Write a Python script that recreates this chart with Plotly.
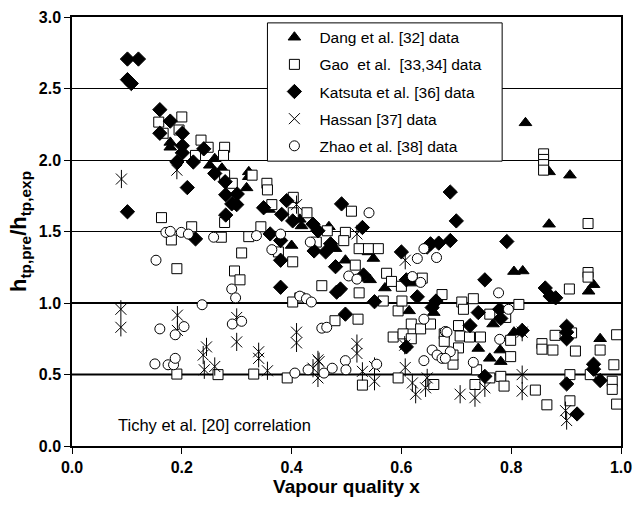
import plotly.graph_objects as go

# Dang et al. [32]
dang_x = [0.179, 0.179, 0.251, 0.260, 0.273, 0.322, 0.322, 0.318, 0.359, 0.418, 0.400, 0.415,
          0.468, 0.480, 0.498, 0.540, 0.549, 0.543, 0.570, 0.614, 0.620, 0.659, 0.740, 0.761,
          0.767, 0.780, 0.781, 0.805, 0.805, 0.821, 0.826, 0.869, 0.907, 0.869, 0.941, 0.950, 0.962]
dang_y = [2.123, 2.089, 1.963, 2.009, 1.942, 1.917, 1.883, 1.805, 1.654, 1.539, 1.402, 1.585,
          1.533, 1.380, 1.299, 1.357, 1.311, 1.162, 1.105, 0.945, 1.139, 0.933, 0.682, 0.613,
          0.853, 0.671, 0.590, 0.796, 1.220, 1.224, 2.260, 1.917, 1.894, 1.551, 1.082, 1.128, 0.750]

# Gao et al. [33,34]
gao_x = [0.158, 0.166, 0.200, 0.195, 0.235, 0.248, 0.278, 0.276, 0.225, 0.278, 0.328, 0.292,
         0.355, 0.356, 0.364, 0.403, 0.403, 0.428, 0.509, 0.163, 0.218, 0.181, 0.272, 0.278,
         0.322, 0.344, 0.309, 0.376, 0.402, 0.191, 0.296, 0.306, 0.465, 0.498, 0.495, 0.445,
         0.523, 0.540, 0.558, 0.516, 0.455, 0.523, 0.573, 0.582, 0.600, 0.638, 0.674, 0.415,
         0.402, 0.567, 0.594, 0.601, 0.479, 0.521, 0.618, 0.635, 0.653, 0.585, 0.603, 0.618,
         0.678, 0.678, 0.594, 0.529, 0.659, 0.191, 0.266, 0.331, 0.392, 0.859, 0.859, 0.859,
         0.859, 0.940, 0.940, 0.940, 0.906, 0.731, 0.710, 0.713, 0.761, 0.790, 0.814, 0.704,
         0.707, 0.724, 0.744, 0.704, 0.799, 0.799, 0.856, 0.856, 0.876, 0.880, 0.910, 0.917,
         0.962, 0.992, 0.987, 0.984, 0.984, 0.992, 0.907, 0.944, 0.844, 0.865, 0.907, 0.694,
         0.737, 0.761, 0.781, 0.787, 0.734, 0.694]
gao_y = [2.265, 2.187, 2.301, 2.210, 2.139, 2.089, 2.089, 2.032, 2.032, 1.894, 1.894, 1.837,
         1.837, 1.791, 1.688, 1.739, 1.631, 1.631, 1.642, 1.597, 1.533, 1.441, 1.460, 1.563,
         1.464, 1.533, 1.350, 1.357, 1.288, 1.240, 1.224, 1.162, 1.505, 1.494, 1.436, 1.426,
         1.380, 1.380, 1.380, 1.265, 1.121, 1.071, 1.208, 1.151, 1.117, 1.174, 1.059, 1.036,
         1.007, 1.014, 0.945, 1.014, 0.876, 0.887, 0.853, 0.819, 0.853, 0.762, 0.784, 0.750,
         0.784, 0.732, 0.476, 0.426, 0.430, 0.503, 0.499, 0.503, 0.476, 2.043, 2.004, 1.968,
         1.929, 1.556, 1.213, 1.181, 1.098, 1.030, 1.007, 0.956, 0.922, 0.899, 0.990, 0.842,
         0.769, 0.762, 0.762, 0.686, 0.739, 0.625, 0.716, 0.677, 0.671, 0.774, 0.791, 0.664,
         0.671, 0.778, 0.568, 0.453, 0.396, 0.293, 0.499, 0.499, 0.391, 0.288, 0.316, 0.572,
         0.533, 0.476, 0.487, 0.419, 0.430, 0.636]

# Katsuta et al. [36]
kat_x = [0.101, 0.121, 0.101, 0.108, 0.160, 0.179, 0.160, 0.201, 0.201, 0.201, 0.191, 0.221,
         0.240, 0.260, 0.279, 0.210, 0.280, 0.301, 0.291, 0.300, 0.101, 0.349, 0.382, 0.391,
         0.280, 0.402, 0.225, 0.361, 0.380, 0.380, 0.380, 0.491, 0.529, 0.439, 0.448, 0.471,
         0.441, 0.462, 0.480, 0.600, 0.653, 0.668, 0.689, 0.689, 0.700, 0.647, 0.482, 0.489,
         0.551, 0.498, 0.629, 0.663, 0.656, 0.531, 0.609, 0.609, 0.792, 0.752, 0.862, 0.871,
         0.881, 0.740, 0.779, 0.781, 0.725, 0.820, 0.901, 0.901, 0.901, 0.950, 0.950, 0.962,
         0.901, 0.752, 0.920]
kat_y = [2.706, 2.706, 2.562, 2.535, 2.352, 2.272, 2.187, 2.187, 2.100, 2.050, 1.986, 1.986,
         2.078, 1.906, 1.848, 1.807, 1.757, 1.762, 1.693, 1.688, 1.638, 1.666, 1.620, 1.716,
         1.615, 1.574, 1.448, 1.483, 1.437, 1.299, 1.110, 1.693, 1.528, 1.551, 1.505, 1.414,
         1.364, 1.357, 1.254, 1.357, 1.414, 1.419, 1.437, 1.776, 1.574, 1.391, 1.076, 1.098,
         1.009, 0.922, 1.043, 1.014, 0.968, 1.196, 1.162, 0.693, 1.430, 1.162, 1.105, 1.048,
         1.036, 0.933, 0.956, 0.892, 0.842, 0.808, 0.837, 0.796, 0.750, 0.572, 0.537, 0.458,
         0.434, 0.487, 0.224]

# Hassan [37]
has_x = [0.089, 0.089, 0.192, 0.192, 0.245, 0.239, 0.241, 0.260, 0.300, 0.300, 0.340, 0.340,
         0.356, 0.090, 0.191, 0.409, 0.409, 0.448, 0.439, 0.448, 0.519, 0.519, 0.529, 0.551,
         0.551, 0.607, 0.620, 0.644, 0.647, 0.626, 0.606, 0.409, 0.519, 0.607, 0.450, 0.707,
         0.820, 0.820, 0.820, 0.734, 0.752, 0.899, 0.901]
has_y = [0.956, 0.830, 0.915, 0.808, 0.693, 0.636, 0.533, 0.556, 0.899, 0.728, 0.659, 0.613,
         0.526, 1.867, 1.929, 0.796, 0.721, 0.602, 0.544, 0.476, 0.716, 0.647, 0.522, 0.556,
         0.453, 0.549, 0.441, 0.407, 0.476, 0.362, 0.705, 1.688, 1.483, 1.299, 0.590, 0.362,
         0.796, 0.499, 0.384, 0.338, 0.407, 0.247, 0.178]

# Zhao et al. [38]
zhao_x = [0.171, 0.179, 0.199, 0.212, 0.258, 0.336, 0.364, 0.380, 0.153, 0.237, 0.291, 0.298,
          0.160, 0.188, 0.204, 0.292, 0.309, 0.151, 0.175, 0.185, 0.188, 0.406, 0.434, 0.541,
          0.641, 0.629, 0.664, 0.504, 0.519, 0.620, 0.635, 0.415, 0.427, 0.436, 0.455, 0.464,
          0.641, 0.680, 0.656, 0.665, 0.674, 0.641, 0.430, 0.459, 0.474, 0.498, 0.499, 0.555,
          0.777, 0.795, 0.779, 0.731, 0.683, 0.689, 0.680]
zhao_y = [1.494, 1.501, 1.494, 1.482, 1.460, 1.471, 1.373, 1.482, 1.299, 0.988, 1.098, 1.036,
          0.819, 0.778, 0.835, 0.853, 0.872, 0.574, 0.568, 0.568, 0.613, 0.510, 1.426, 1.631,
          1.380, 1.311, 1.318, 1.189, 1.167, 1.185, 1.144, 1.048, 1.030, 1.007, 0.824, 0.830,
          0.887, 0.801, 0.671, 0.636, 0.613, 0.597, 0.533, 0.510, 0.544, 0.597, 0.533, 0.572,
          1.071, 0.956, 0.746, 0.585, 0.796, 0.659, 0.613]

x_ticks = [0.0, 0.2, 0.4, 0.6, 0.8, 1.0]
y_ticks = [0.0, 0.5, 1.0, 1.5, 2.0, 2.5, 3.0]
bold_lines = [0.5, 1.0]

FONT = "Arial, Liberation Sans, sans-serif"
ink = "black"
NB = "\u00a0"

fig = go.Figure()

def add(name, xs, ys, symbol, size, filled, group, show=True):
    fig.add_trace(go.Scatter(
        x=xs, y=ys, mode="markers", name=name, legendgroup=group, showlegend=show,
        marker=dict(symbol=symbol, size=size,
                    color=ink if filled else "white",
                    line=dict(color=ink, width=1)),
    ))

add("Dang et al. [32] data", dang_x, dang_y, "triangle-up", 11, True, "g1")
add(f"Gao {NB}et al. {NB}[33,34] data", gao_x, gao_y, "square", 10, False, "g2")
add("Katsuta et al. [36] data", kat_x, kat_y, "diamond", 11, True, "g3")
# six-armed star: diagonal cross plus a vertical bar
fig.add_trace(go.Scatter(
    x=has_x, y=has_y, mode="markers", name="Hassan [37] data", legendgroup="g4",
    marker=dict(symbol="x-thin-open", size=11, color=ink, line=dict(color=ink, width=1)),
))
fig.add_trace(go.Scatter(
    x=has_x, y=has_y, mode="markers", name="Hassan [37] data", legendgroup="g4",
    showlegend=False,
    marker=dict(symbol="line-ns-open", size=13, color=ink, line=dict(color=ink, width=1)),
))
add("Zhao et al. [38] data", zhao_x, zhao_y, "circle", 10, False, "g5")

for v in bold_lines:
    fig.add_hline(y=v, line=dict(color=ink, width=2), layer="below")

# framed white panel behind the legend entries
fig.add_shape(type="rect", xref="paper", yref="paper",
              x0=0.356, x1=0.7835, y0=0.664, y1=0.9863,
              fillcolor="white", line=dict(color=ink, width=1), layer="above")

fig.add_annotation(
    text="Tichy et al. [20] correlation", xref="paper", yref="paper",
    x=0.08, y=0.048, xanchor="left", yanchor="middle", showarrow=False,
    font=dict(family=FONT, size=16.5, color=ink),
)

fig.update_layout(
    width=641, height=506,
    margin=dict(l=72, r=10, t=9, b=60),
    paper_bgcolor="white", plot_bgcolor="white",
    font=dict(family=FONT, color=ink),
    showlegend=True,
    legend=dict(
        x=0.3596, y=0.9915, xanchor="left", yanchor="top",
        borderwidth=0, bgcolor="rgba(0,0,0,0)",
        font=dict(family=FONT, size=15.5, color=ink),
        traceorder="grouped", tracegroupgap=4, itemwidth=40,
    ),
    xaxis=dict(
        range=[0, 1], tickvals=x_ticks, ticktext=[f"{v:.1f}" for v in x_ticks],
        showgrid=False, zeroline=False,
        showline=True, linecolor=ink, linewidth=1.5, mirror=True,
        ticks="outside", ticklen=6, tickwidth=1, tickcolor=ink,
        ticklabeloverflow="allow",
        tickfont=dict(family=FONT, size=16, color=ink, weight="bold"),
        title=dict(text="<b>Vapour quality x</b>", font=dict(family=FONT, size=19, color=ink),
                   standoff=2),
    ),
    yaxis=dict(
        range=[0, 3], tickvals=y_ticks, ticktext=[f"{v:.1f}" for v in y_ticks],
        showgrid=True, gridcolor=ink, gridwidth=1, zeroline=False,
        showline=True, linecolor=ink, linewidth=1.5, mirror=True,
        ticks="outside", ticklen=6, tickwidth=1, tickcolor=ink,
        ticklabeloverflow="allow",
        tickfont=dict(family=FONT, size=16, color=ink, weight="bold"),
        title=dict(text="<b>h<sub>tp,pre</sub>/h<sub>tp,exp</sub></b>",
                   font=dict(family=FONT, size=22, color=ink), standoff=6),
    ),
)

fig.write_html("out.html")
